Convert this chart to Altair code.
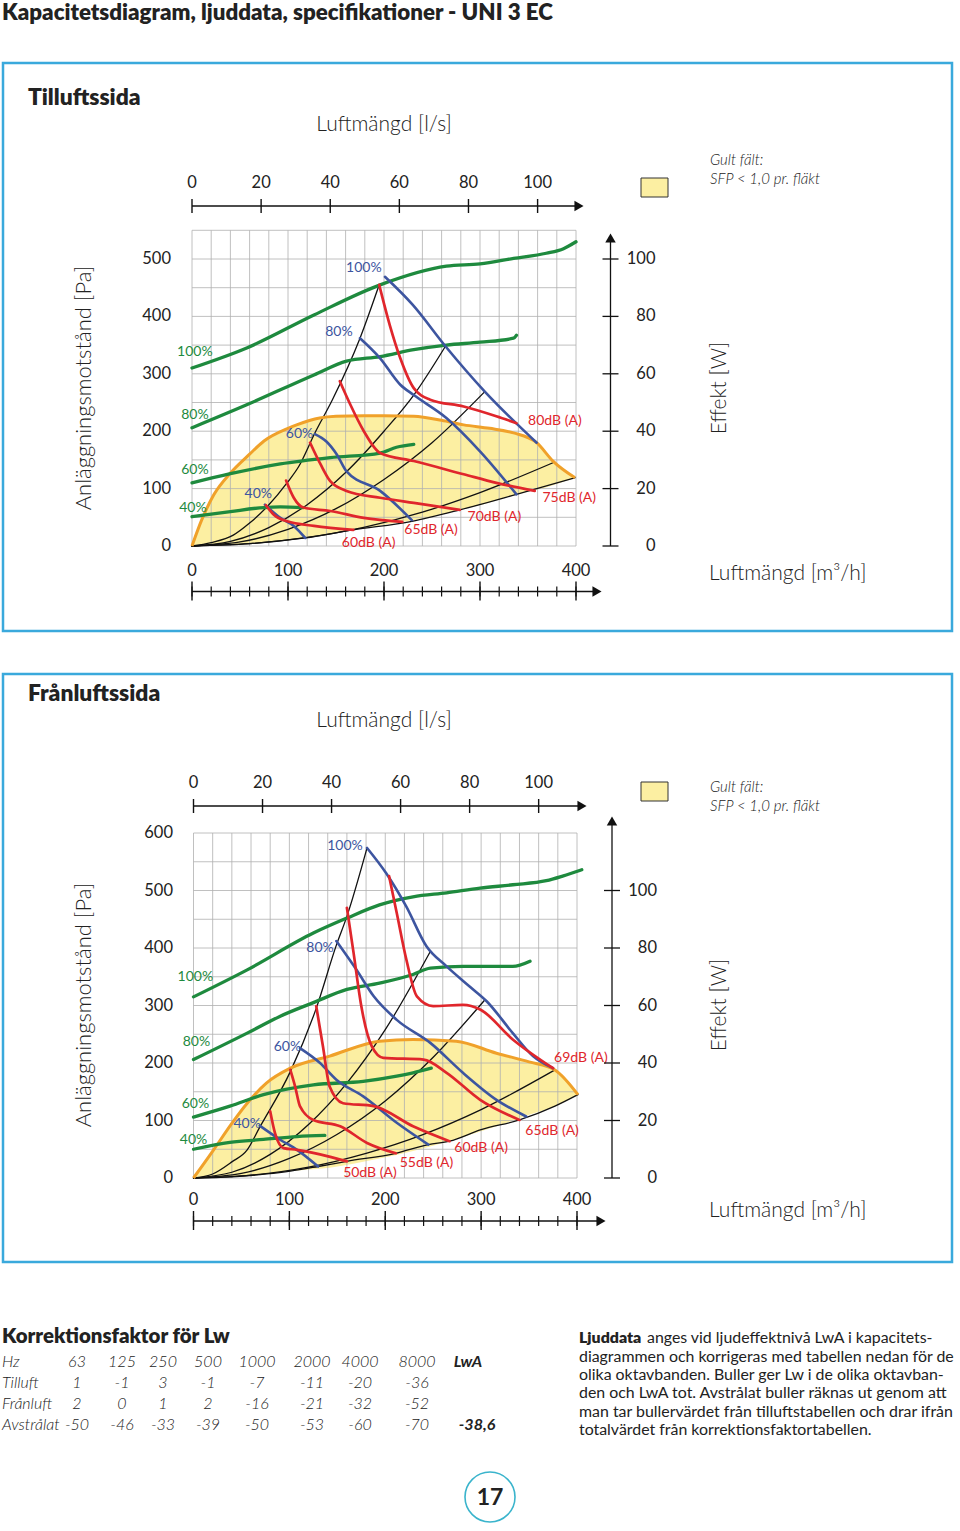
import altair as alt
import pandas as pd

# ------------------------------------------------------------------ data
TITLE = "Kapacitetsdiagram, ljuddata, specifikationer - UNI 3 EC"

M3H_MAJOR = [0, 100, 200, 300, 400]
M3H_MINOR = list(range(0, 401, 20))
LS_TICKS = [0, 20, 40, 60, 80, 100]
W_TICKS = [0, 20, 40, 60, 80, 100]
P1_PA_TICKS = [0, 100, 200, 300, 400, 500]
P2_PA_TICKS = [0, 100, 200, 300, 400, 500, 600]
P1_GRID_PA = list(range(0, 551, 50))
P2_GRID_PA = list(range(0, 601, 50))

# ---- Tilluftssida (x: m3/h, y: Pa ; green curves: W)
T_GREEN = {
    "100%": [(0, 62), (57, 69), (127, 80.5), (196, 91), (265, 97.5), (300, 98.3), (335, 100.2), (369, 102), (387, 103.6), (400, 106)],
    "80%": [(0, 41.2), (57, 49.2), (127, 59.6), (161, 64.4), (196, 66), (231, 68.4), (265, 70), (300, 71), (335, 72.4), (338, 73.4)],
    "60%": [(0, 22), (40, 25.2), (92, 28.6), (144, 30.8), (196, 32.4), (213, 34.4), (231, 35.4)],
    "40%": [(0, 10.2), (40, 12), (75, 13.4), (92, 13.6), (116, 13.4)],
}
T_BLUE = {
    "100%": [(201, 469), (230, 420), (264, 348), (305, 269), (359, 180)],
    "80%": [(175, 362), (196, 327), (217, 281), (231, 263), (265, 223), (300, 165), (338, 90)],
    "60%": [(128, 195), (140, 182), (151, 159), (161, 130), (196, 96), (229, 45)],
    "40%": [(76, 72), (92, 49), (106, 35), (118, 14)],
}
T_RED = {
    "80dB": [(195, 455), (206, 385), (217, 327), (231, 275), (248, 255), (283, 243), (317, 226), (338, 214)],
    "75dB": [(154, 287), (165, 246), (179, 200), (196, 162), (231, 148), (283, 125), (317, 110), (357, 96)],
    "70dB": [(123, 180), (134, 142), (144, 113), (161, 96), (196, 84), (231, 75), (279, 63)],
    "65dB": [(98, 114), (106, 84), (116, 67), (144, 61), (179, 49), (219, 42)],
    "60dB": [(77, 71), (85, 55), (99, 43), (127, 35), (168, 28)],
}
T_BLACK = {
    "a": [(0, 0), (20, 6), (43, 19), (60, 40), (78, 68), (100, 112), (111, 138), (128, 197), (146, 254), (175, 362), (195, 455)],
    "b": [(0, 0), (40, 8), (80, 32), (120, 72), (160, 128), (200, 200), (231, 263), (264, 348)],
    "c": [(0, 0), (50, 7), (100, 29), (150, 65), (200, 116), (250, 180), (305, 269)],
    "d": [(0, 0), (60, 4), (120, 15), (180, 33), (240, 59), (300, 93), (376, 145)],
    "e": [(0, 0), (60, 4), (118, 14), (168, 28), (229, 43), (279, 63), (338, 90), (399, 119)],
}
T_SFP_X = [0, 10, 23, 40, 60, 75, 100, 109, 133, 150, 179, 200, 231, 260, 283, 310, 335, 359, 376, 399]
T_SFP_TOP = [0, 45, 90, 127, 160, 183, 205, 211, 223, 226, 227, 227, 226, 219, 211, 205, 197, 180, 148, 119]
T_SFP_BOT = [0, 0.5, 1, 2, 4, 6, 10, 12, 18, 23, 31, 37, 45, 55, 65, 76, 89, 98, 106, 119]

T_GREEN_LBL = [("100%", 3, 338), ("80%", 3, 228), ("60%", 3, 132), ("40%", 1, 66)]
T_BLUE_LBL = [("100%", 179, 484), ("80%", 153, 373), ("60%", 112, 195), ("40%", 69, 91)]
T_RED_LBL = [("80dB (A)", 378, 218), ("75dB (A)", 393, 84), ("70dB (A)", 315, 51), ("65dB (A)", 249, 28), ("60dB (A)", 184, 5)]

# ---- Frånluftssida
F_GREEN = {
    "100%": [(0, 63), (56, 72.4), (125, 85.2), (160, 90.4), (194, 95), (229, 97.8), (264, 99.2), (299, 100.8), (333, 102), (368, 103.4), (385, 105), (405, 107.2)],
    "80%": [(0, 41.2), (56, 50.4), (90, 56.2), (125, 61), (160, 65.6), (194, 67.8), (229, 70.8), (247, 73), (281, 73.6), (316, 73.6), (333, 73.6), (351, 75.4)],
    "60%": [(0, 21.2), (38, 25), (73, 29), (125, 32.4), (177, 33.6), (212, 35.4), (229, 36.6), (248, 38.2)],
    "40%": [(0, 10), (38, 12.4), (73, 13.4), (108, 14.4), (137, 14.8)],
}
F_BLUE = {
    "100%": [(181, 574), (201, 530), (222, 472), (243, 403), (264, 368), (288, 333), (306, 307), (333, 252), (354, 212), (375, 191)],
    "80%": [(149, 412), (170, 362), (188, 316), (212, 275), (247, 235), (281, 183), (316, 136), (347, 107)],
    "60%": [(111, 226), (132, 200), (149, 171), (177, 142), (212, 96), (245, 58)],
    "40%": [(69, 91), (90, 67), (108, 49), (130, 20)],
}
F_RED = {
    "69dB": [(204, 525), (212, 461), (222, 380), (233, 316), (250, 299), (281, 301), (299, 293), (333, 241), (375, 191)],
    "65dB": [(160, 470), (167, 391), (175, 299), (186, 229), (198, 209), (240, 206), (264, 183), (299, 136), (340, 101)],
    "60dB": [(128, 299), (135, 229), (142, 159), (156, 130), (188, 125), (229, 90), (267, 64)],
    "55dB": [(101, 188), (106, 159), (111, 125), (125, 101), (153, 90), (181, 61), (211, 43)],
    "50dB": [(80, 116), (85, 78), (94, 52), (108, 49), (132, 41), (160, 29)],
}
F_BLACK = {
    "a": [(0, 0), (20, 7), (40, 28), (56, 49), (69, 88), (101, 185), (128, 295), (149, 405), (160, 455), (181, 574)],
    "b": [(0, 0), (40, 10), (80, 41), (120, 93), (160, 165), (200, 258), (247, 394)],
    "c": [(0, 0), (50, 8), (100, 34), (150, 76), (200, 134), (250, 210), (304, 310)],
    "d": [(0, 0), (60, 5), (120, 19), (180, 43), (240, 76), (300, 119), (377, 188)],
    "e": [(0, 0), (40, 2), (76, 7), (101, 12), (130, 20), (160, 29), (211, 43), (245, 58), (267, 64), (300, 84), (340, 101), (377, 125), (401, 145)],
}
F_SFP_X = [0, 21, 40, 56, 76, 101, 142, 194, 229, 274, 316, 350, 377, 401]
F_SFP_TOP = [0, 49, 95, 130, 165, 191, 212, 238, 241, 238, 217, 202, 188, 145]
F_SFP_BOT = [0, 0.5, 2, 3.5, 7, 12, 18, 34, 47, 68, 90, 110, 125, 145]

F_GREEN_LBL = [("100%", 2, 350), ("80%", 3, 237), ("60%", 2, 129), ("40%", 0, 66)]
F_BLUE_LBL = [("100%", 158, 577), ("80%", 132, 400), ("60%", 98, 228), ("40%", 56, 94)]
F_RED_LBL = [("69dB (A)", 404, 209), ("65dB (A)", 374, 82), ("60dB (A)", 300, 52), ("55dB (A)", 243, 26), ("50dB (A)", 184, 9)]

# ---- correction table
HZ = ["63", "125", "250", "500", "1000", "2000", "4000", "8000"]
TILLUFT = [1, -1, 3, -1, -7, -11, -20, -36]
FRANLUFT = [2, 0, 1, 2, -16, -21, -32, -52]
AVSTRALAT = [-50, -46, -33, -39, -50, -53, -60, -70]
AVSTRALAT_LWA = "-38,6"
ROW_NAMES = ["Hz", "Tilluft", "Frånluft", "Avstrålat"]

PARA = [
    "anges vid ljudeffektnivå LwA i kapacitets-",
    "diagrammen och korrigeras med tabellen nedan för de",
    "olika oktavbanden. Buller ger Lw i de olika oktavban-",
    "den och LwA tot. Avstrålat buller räknas ut genom att",
    "man tar bullervärdet från tilluftstabellen och drar ifrån",
    "totalvärdet från korrektionsfaktortabellen.",
]

# ------------------------------------------------------------------ style
FONT = "Lato"
GREEN = "#1e8a3e"
BLUE = "#3d55a0"
RED = "#e0262c"
ORANGE = "#f0a12a"
YELLOW = "#fcefa2"
FRAME = "#3aa9dc"
GRID = "#b0b0b0"
TXT = "#222222"

DUMMY = pd.DataFrame({"k": [0]})


def lin(d, r):
    return alt.Scale(domain=d, range=r, zero=False, nice=False)


def curves_df(d):
    rows = []
    for name, pts in d.items():
        for i, (x, y) in enumerate(pts):
            rows.append({"name": name, "i": i, "x": x, "y": y})
    return pd.DataFrame(rows)


def lbl_df(lst):
    return pd.DataFrame([{"t": t, "x": x, "y": y} for t, x, y in lst])


def xq(X):
    return alt.X("x:Q", scale=X, axis=None)


def yq(Y, f="y"):
    return alt.Y(f + ":Q", scale=Y, axis=None)


def vtext(txt, x, y, size=16, weight=400, align="center", angle=0, style="normal", color=TXT, baseline="middle"):
    return alt.Chart(DUMMY).mark_text(
        text=txt, font=FONT, fontSize=size, fontWeight=weight, align=align, angle=angle,
        fontStyle=style, color=color, baseline=baseline,
    ).encode(x=alt.value(x), y=alt.value(y))


def vrule(x1, y1, x2, y2, color="#111", w=1.3):
    return alt.Chart(DUMMY).mark_rule(color=color, strokeWidth=w).encode(
        x=alt.value(x1), y=alt.value(y1), x2=alt.value(x2), y2=alt.value(y2))


def arrow(x, y, shape):
    return alt.Chart(DUMMY).mark_point(shape=shape, filled=True, color="#111", size=110, opacity=1).encode(
        x=alt.value(x), y=alt.value(y))


def panel(cfg):
    X, Y, YW, LS = cfg["X"], cfg["Y"], cfg["YW"], cfg["LS"]
    L = []
    # frame
    L.append(alt.Chart(DUMMY).mark_rect(fillOpacity=0, stroke=FRAME, strokeWidth=2.5).encode(
        x=alt.value(3), x2=alt.value(952), y=alt.value(cfg["frame"][0]), y2=alt.value(cfg["frame"][1])))
    # yellow SFP field
    sfp = pd.DataFrame({"x": cfg["sfp_x"], "top": cfg["sfp_top"], "bot": cfg["sfp_bot"]})
    L.append(alt.Chart(sfp).mark_area(color=YELLOW, interpolate="monotone").encode(
        x=xq(X), y=yq(Y, "top"), y2="bot:Q"))
    # grid
    gmax = cfg["grid_pa"][-1]
    vg = pd.DataFrame({"x": M3H_MINOR, "y0": 0, "y1": gmax})
    L.append(alt.Chart(vg).mark_rule(color=GRID, strokeWidth=0.8).encode(x=xq(X), y=yq(Y, "y0"), y2="y1:Q"))
    hg = pd.DataFrame({"y": cfg["grid_pa"], "x0": 0, "x1": 400})
    L.append(alt.Chart(hg).mark_rule(color=GRID, strokeWidth=0.8).encode(
        y=yq(Y), x=alt.X("x0:Q", scale=X, axis=None), x2="x1:Q"))
    # curves
    def lines(d, color, w, YY):
        return alt.Chart(curves_df(d)).mark_line(color=color, strokeWidth=w, interpolate="monotone",
                                                 strokeCap="round").encode(
            x=xq(X), y=yq(YY), detail="name:N", order="i:Q")
    L.append(lines(cfg["black"], "#111", 1.3, Y))
    L.append(alt.Chart(sfp).mark_line(color=ORANGE, strokeWidth=3, interpolate="monotone").encode(
        x=xq(X), y=yq(Y, "top")))
    L.append(lines(cfg["green"], GREEN, 3.3, YW))
    L.append(lines(cfg["blue"], BLUE, 2.6, Y))
    L.append(lines(cfg["red"], RED, 2.7, Y))
    # curve labels
    for lst, col in ((cfg["glbl"], GREEN), (cfg["blbl"], BLUE), (cfg["rlbl"], RED)):
        L.append(alt.Chart(lbl_df(lst)).mark_text(font=FONT, fontSize=14, color=col, align="center",
                                                 baseline="middle").encode(
            x=xq(X), y=yq(Y), text="t:N"))
    # left Pa labels
    L.append(alt.Chart(pd.DataFrame({"y": cfg["pa_ticks"]})).mark_text(
        font=FONT, fontSize=16.5, color=TXT, align="right", baseline="middle").encode(
        y=yq(Y), x=alt.value(cfg["pa_lbl_x"]), text="y:Q"))
    # bottom m3/h axis
    by = cfg["bot_y"]
    L.append(vrule(cfg["x0"], by, cfg["bot_tip"] - 8, by))
    L.append(arrow(cfg["bot_tip"] - 6, by, "triangle-right"))
    L.append(alt.Chart(pd.DataFrame({"x": M3H_MINOR})).mark_rule(color="#111", strokeWidth=1.2).encode(
        x=xq(X), y=alt.value(by - 5), y2=alt.value(by + 5)))
    L.append(alt.Chart(pd.DataFrame({"x": M3H_MAJOR})).mark_rule(color="#111", strokeWidth=1.4).encode(
        x=xq(X), y=alt.value(by - 10), y2=alt.value(by + 9)))
    L.append(alt.Chart(pd.DataFrame({"x": M3H_MAJOR})).mark_text(
        font=FONT, fontSize=16.5, color=TXT, baseline="middle").encode(
        x=xq(X), y=alt.value(by - 21), text="x:Q"))
    # top l/s axis
    ty = cfg["top_y"]
    L.append(vrule(cfg["x0"], ty, cfg["top_tip"] - 8, ty))
    L.append(arrow(cfg["top_tip"] - 6, ty, "triangle-right"))
    L.append(alt.Chart(pd.DataFrame({"x": LS_TICKS})).mark_rule(color="#111", strokeWidth=1.4).encode(
        x=alt.X("x:Q", scale=LS, axis=None), y=alt.value(ty - 7), y2=alt.value(ty + 7)))
    L.append(alt.Chart(pd.DataFrame({"x": LS_TICKS})).mark_text(
        font=FONT, fontSize=16.5, color=TXT, baseline="middle").encode(
        x=alt.X("x:Q", scale=LS, axis=None), y=alt.value(ty - 23), text="x:Q"))
    # right W axis
    rx = cfg["right_x"]
    L.append(vrule(rx, cfg["y0"], rx, cfg["right_tip"] + 8))
    L.append(arrow(rx, cfg["right_tip"] + 6, "triangle-up"))
    L.append(alt.Chart(pd.DataFrame({"y": W_TICKS})).mark_rule(color="#111", strokeWidth=1.3).encode(
        y=yq(YW), x=alt.value(rx - 8), x2=alt.value(rx + 8)))
    L.append(alt.Chart(pd.DataFrame({"y": W_TICKS})).mark_text(
        font=FONT, fontSize=16.5, color=TXT, align="right", baseline="middle").encode(
        y=yq(YW), x=alt.value(rx + 45), text="y:Q"))
    # titles
    t = cfg["title_y"]
    L.append(vtext(cfg["name"], 28, t, size=22.8, weight=800, align="left"))
    L.append(vtext("Luftmängd [l/s]", 384, cfg["ls_title_y"], size=21, weight=300))
    L.append(vtext("Anläggningsmotstånd [Pa]", 84, cfg["pa_title_y"], size=22, weight=300, angle=270))
    L.append(vtext("Effekt [W]", 720, cfg["pa_title_y"], size=21, weight=300, angle=270))
    L.append(vtext("Luftmängd [m³/h]", 709, cfg["m3_title_y"], size=21, weight=300, align="left"))
    # legend swatch
    sy = cfg["swatch_y"]
    L.append(alt.Chart(DUMMY).mark_rect(fill=YELLOW, stroke="#333", strokeWidth=1).encode(
        x=alt.value(641), x2=alt.value(668), y=alt.value(sy), y2=alt.value(sy + 19)))
    L.append(vtext("Gult fält:", 710, cfg["gult_y"], size=15, weight=300, style="italic", align="left"))
    L.append(vtext("SFP < 1,0 pr. fläkt", 710, cfg["gult_y"] + 19, size=15, weight=300, style="italic", align="left"))
    return L


P1 = dict(
    name="Tilluftssida",
    X=lin([0, 400], [192, 576]), Y=lin([0, 500], [546, 259]), YW=lin([0, 100], [546, 259]),
    LS=lin([0, 100], [192, 192 + 360 * 0.96]),
    frame=(63, 631), sfp_x=T_SFP_X, sfp_top=T_SFP_TOP, sfp_bot=T_SFP_BOT, grid_pa=P1_GRID_PA,
    black=T_BLACK, green=T_GREEN, blue=T_BLUE, red=T_RED,
    glbl=T_GREEN_LBL, blbl=T_BLUE_LBL, rlbl=T_RED_LBL, pa_ticks=P1_PA_TICKS, pa_lbl_x=171,
    x0=192, y0=546, bot_y=591.5, bot_tip=603, top_y=206, top_tip=585, right_x=610.5, right_tip=232,
    title_y=98, ls_title_y=125, pa_title_y=388, m3_title_y=574, swatch_y=178, gult_y=160,
)
P2 = dict(
    name="Frånluftssida",
    X=lin([0, 400], [193.5, 577]), Y=lin([0, 500], [1178, 890.5]), YW=lin([0, 100], [1178, 890.5]),
    LS=lin([0, 100], [193.5, 193.5 + 360 * 0.95875]),
    frame=(674, 1262), sfp_x=F_SFP_X, sfp_top=F_SFP_TOP, sfp_bot=F_SFP_BOT, grid_pa=P2_GRID_PA,
    black=F_BLACK, green=F_GREEN, blue=F_BLUE, red=F_RED,
    glbl=F_GREEN_LBL, blbl=F_BLUE_LBL, rlbl=F_RED_LBL, pa_ticks=P2_PA_TICKS, pa_lbl_x=173,
    x0=193.5, y0=1178, bot_y=1221, bot_tip=607, top_y=806, top_tip=588, right_x=612, right_tip=815,
    title_y=694, ls_title_y=721, pa_title_y=1005, m3_title_y=1211, swatch_y=782, gult_y=787,
)

layers = [vtext(TITLE, 2, 2, size=22.3, weight=800, align="left", baseline="top")]
layers += panel(P1)
layers += panel(P2)

# ---- correction table
COL_X = [77, 122, 163, 208, 257, 312, 360, 417]
ROW_Y = [1362, 1383, 1404, 1425]
name_cells = pd.DataFrame({"t": ROW_NAMES, "x": 2, "y": ROW_Y})
val_cells = []
rows_vals = [HZ, [str(v) for v in TILLUFT], [str(v) for v in FRANLUFT], [str(v) for v in AVSTRALAT]]
for vals, y in zip(rows_vals, ROW_Y):
    for v, x in zip(vals, COL_X):
        val_cells.append({"t": v, "x": x, "y": y})
val_cells = pd.DataFrame(val_cells)
layers.append(alt.Chart(val_cells).mark_text(font=FONT, fontSize=16, fontStyle="italic", fontWeight=300,
                                             color=TXT, baseline="middle", align="center").encode(
    x=alt.X("x:Q", scale=None), y=alt.Y("y:Q", scale=None), text="t:N"))
layers.append(alt.Chart(name_cells).mark_text(font=FONT, fontSize=16, fontStyle="italic", fontWeight=300,
                                              color=TXT, baseline="middle", align="left").encode(
    x=alt.X("x:Q", scale=None), y=alt.Y("y:Q", scale=None), text="t:N"))
layers.append(vtext("LwA", 468, ROW_Y[0], size=16, weight=700, style="italic"))
layers.append(vtext(AVSTRALAT_LWA, 477, ROW_Y[3], size=16, weight=700, style="italic"))
layers.append(vtext("Korrektionsfaktor för Lw", 2, 1337, size=20.4, weight=800, align="left"))

# ---- paragraph
PARA_Y = [1338, 1357, 1375, 1393, 1412, 1430]
layers.append(vtext("Ljuddata", 579, PARA_Y[0], size=15.9, weight=800, align="left"))
layers.append(vtext(PARA[0], 647, PARA_Y[0], size=15.9, weight=400, align="left"))
for line, y in zip(PARA[1:], PARA_Y[1:]):
    layers.append(vtext(line, 579, y, size=15.9, weight=400, align="left"))

# ---- page number
layers.append(alt.Chart(DUMMY).mark_point(shape="circle", size=2500, stroke="#3ab4cc", strokeWidth=1.6,
                                          filled=False, opacity=1).encode(x=alt.value(490), y=alt.value(1497)))
layers.append(vtext("17", 490, 1498, size=23, weight=700))

chart = alt.layer(*layers).resolve_scale(x="independent", y="independent").properties(
    width=960, height=1531, padding=0, autosize=alt.AutoSizeParams(type="none"), background="white"
).configure_view(stroke=None)

chart.save("out.html", embed_options={"renderer": "svg", "actions": False})
